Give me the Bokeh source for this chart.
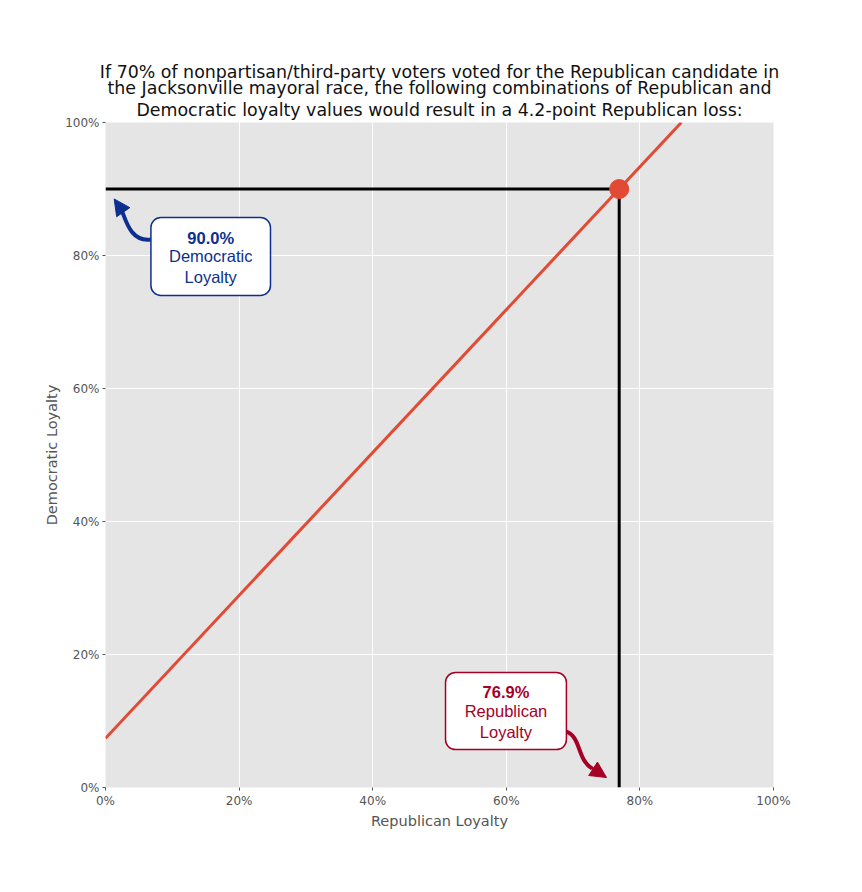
from bokeh.plotting import figure
from bokeh.models import (Range1d, FixedTicker, PrintfTickFormatter, BoxAnnotation,
                          Label, Arrow, NormalHead, Title)
from bokeh.embed import file_html
from bokeh.resources import INLINE

# ---- data ----
line_rep = [0.0, 86.2]        # Republican loyalty (%) along the break-even line
line_dem = [7.4, 100.0]       # Democratic loyalty (%) along the break-even line
point_rep = 76.9              # chosen Republican loyalty
point_dem = 90.0              # chosen Democratic loyalty
ticks = [0, 20, 40, 60, 80, 100]
title_lines = [
    "If 70% of nonpartisan/third-party voters voted for the Republican candidate in",
    "the Jacksonville mayoral race, the following combinations of Republican and",
    "Democratic loyalty values would result in a 4.2-point Republican loss:",
]

RED = "#E24A33"
BLUE = "#0D3090"
DRED = "#A50026"
GRAY = "#555555"

p = figure(width=846, height=870, output_backend="svg", toolbar_location=None,
           x_range=Range1d(0, 100), y_range=Range1d(0, 100),
           min_border_left=105, min_border_right=73, min_border_top=122, min_border_bottom=83)

standoffs = [6, -7, -4]   # bottom line first
for line, so in zip(reversed(title_lines), standoffs):
    t = Title(text=line, align="center", text_font="DejaVu Sans", text_font_size="17.4px",
              text_font_style="normal", text_color="#111111", standoff=so, offset=0)
    p.add_layout(t, "above")

p.background_fill_color = "#E5E5E5"
p.border_fill_color = "white"
p.outline_line_color = None

for ax in (p.xaxis[0], p.yaxis[0]):
    ax.ticker = FixedTicker(ticks=ticks)
    ax.formatter = PrintfTickFormatter(format="%d%%")
    ax.axis_line_color = None
    ax.major_tick_line_color = GRAY
    ax.major_tick_out = 3
    ax.major_tick_in = 0
    ax.minor_tick_line_color = None
    ax.major_label_text_font = "DejaVu Sans"
    ax.major_label_text_font_size = "12px"
    ax.major_label_text_color = GRAY
    ax.major_label_standoff = 3
    ax.axis_label_text_font = "DejaVu Sans"
    ax.axis_label_text_font_size = "14.5px"
    ax.axis_label_text_font_style = "normal"
    ax.axis_label_text_color = GRAY
    ax.axis_label_standoff = 2

p.xaxis.axis_label = "Republican Loyalty"
p.yaxis.axis_label = "Democratic Loyalty"

p.xgrid.grid_line_color = "white"
p.ygrid.grid_line_color = "white"
p.xgrid.grid_line_width = 1
p.ygrid.grid_line_width = 1
p.xgrid.ticker = FixedTicker(ticks=ticks)
p.ygrid.ticker = FixedTicker(ticks=ticks)

# break-even line
p.line(line_rep, line_dem, line_color=RED, line_width=3)
# guide lines
p.line([0, point_rep], [point_dem, point_dem], line_color="black", line_width=3)
p.line([point_rep, point_rep], [0, point_dem], line_color="black", line_width=3)
# chosen point
p.scatter([point_rep], [point_dem], size=19, fill_color=RED, line_color=RED)

FS = "16.5px"

# ---- Democratic annotation ----
bx0, bx1, by0, by1 = 6.8, 24.7, 74.0, 85.7
p.add_layout(BoxAnnotation(left=bx0, right=bx1, bottom=by0, top=by1,
                           fill_color="white", fill_alpha=1.0,
                           line_color=BLUE, line_alpha=1.0, line_width=1.5,
                           border_radius=10))
cx = (bx0 + bx1) / 2
p.add_layout(Label(x=cx, y=82.7, text=f"{point_dem:.1f}%", text_align="center",
                   text_baseline="middle", text_font="Liberation Sans",
                   text_font_size=FS, text_font_style="bold", text_color=BLUE))
p.add_layout(Label(x=cx, y=79.9, text="Democratic", text_align="center",
                   text_baseline="middle", text_font="Liberation Sans",
                   text_font_size=FS, text_color=BLUE))
p.add_layout(Label(x=cx, y=76.7, text="Loyalty", text_align="center",
                   text_baseline="middle", text_font="Liberation Sans",
                   text_font_size=FS, text_color=BLUE))
p.bezier(x0=[bx0], y0=[82.4], x1=[2.3], y1=[87.1],
         cx0=[3.6], cy0=[82.0], cx1=[3.0], cy1=[85.6],
         line_color=BLUE, line_width=4)
p.add_layout(Arrow(x_start=2.6, y_start=86.6, x_end=1.3, y_end=88.5,
                   line_color=BLUE, line_width=3,
                   end=NormalHead(size=16, fill_color=BLUE, line_color=BLUE)))

# ---- Republican annotation ----
rx0, rx1, ry0, ry1 = 50.9, 69.0, 5.7, 17.3
p.add_layout(BoxAnnotation(left=rx0, right=rx1, bottom=ry0, top=ry1,
                           fill_color="white", fill_alpha=1.0,
                           line_color=DRED, line_alpha=1.0, line_width=1.5,
                           border_radius=10))
rcx = (rx0 + rx1) / 2
p.add_layout(Label(x=rcx, y=14.4, text=f"{point_rep:.1f}%", text_align="center",
                   text_baseline="middle", text_font="Liberation Sans",
                   text_font_size=FS, text_font_style="bold", text_color=DRED))
p.add_layout(Label(x=rcx, y=11.5, text="Republican", text_align="center",
                   text_baseline="middle", text_font="Liberation Sans",
                   text_font_size=FS, text_color=DRED))
p.add_layout(Label(x=rcx, y=8.4, text="Loyalty", text_align="center",
                   text_baseline="middle", text_font="Liberation Sans",
                   text_font_size=FS, text_color=DRED))
p.bezier(x0=[rx1], y0=[8.4], x1=[72.8], y1=[2.9],
         cx0=[71.2], cy0=[7.6], cx1=[70.6], cy1=[4.2],
         line_color=DRED, line_width=4)
p.add_layout(Arrow(x_start=72.4, y_start=3.2, x_end=75.0, y_end=1.5,
                   line_color=DRED, line_width=3,
                   end=NormalHead(size=16, fill_color=DRED, line_color=DRED)))

open("out.html", "w").write(file_html(p, INLINE))
